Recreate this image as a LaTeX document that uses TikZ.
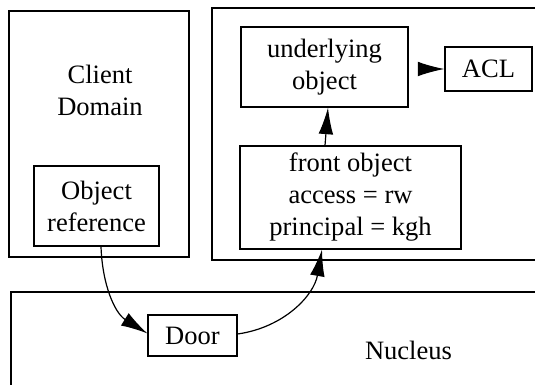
\documentclass[tikz,border=0pt]{standalone}
\usepackage{fontspec}
\setmainfont{Liberation Serif}
\usetikzlibrary{arrows.meta}
\def\px{0.75pt}
\tikzset{
	box/.style={draw, line width=0.8pt, inner sep=0pt, align=center},
	domainbox/.style={line width=1.1pt},
	txt/.style={inner sep=0pt, align=center},
	arr/.style={line width=0.9pt, -{Latex[length=20pt,width=11pt]}},
	every node/.style={font=\rmfamily\fontsize{19.9pt}{24pt}\selectfont}
}

\begin{document}
\begin{tikzpicture}[x=\px, y=-\px]
			%%%%% START %%%%%
			\clip (0, 0) rectangle (535, 385);
			
			\draw[domainbox] (9, 11) rectangle (189, 257);
			\node[txt] (clientname) at (100, 90) {Client\\Domain};
			\node[box, minimum width=125*\px, minimum height=80*\px] (objref) at (96.5, 206) {Object\\reference};
			
			\draw[domainbox] (212, 8) rectangle (545, 260);
			\node[box, minimum width=167*\px, minimum height=80*\px] (under) at (324.5, 67) {underlying\\object};
			\node[box, minimum width=87*\px, minimum height=44*\px] (acl) at (488.5, 69) {ACL};
			\node[box, minimum width=221*\px, minimum height=103*\px] (front) at (350.5, 197.5) {front object\\access = rw\\principal = kgh};
			
			\draw[domainbox] (11, 292) rectangle (545, 395);
			\node[txt, anchor=base] (nucleusname) at (408.5, 359) {Nucleus};
			\node[box, minimum width=89*\px, minimum height=41*\px] (door) at (192.5, 335.5) {Door};
			
			\coordinate (aclfrom) at (419, 69);
			\draw[arr] (aclfrom) -- (acl.west);
			\draw[arr] ([xshift=-25.5*\px]front.north) -- ([xshift=3.5*\px]under.south);
			\draw[arr] ([xshift=4.5*\px]objref.south) to[out=-88, in=148] ([yshift=2*\px]door.west);
			\draw[arr] ([yshift=1.5*\px]door.east) to[out=8, in=-100] ([xshift=-28.5*\px]front.south);
			
			%%%%% END %%%%%
\end{tikzpicture}
\end{document}
